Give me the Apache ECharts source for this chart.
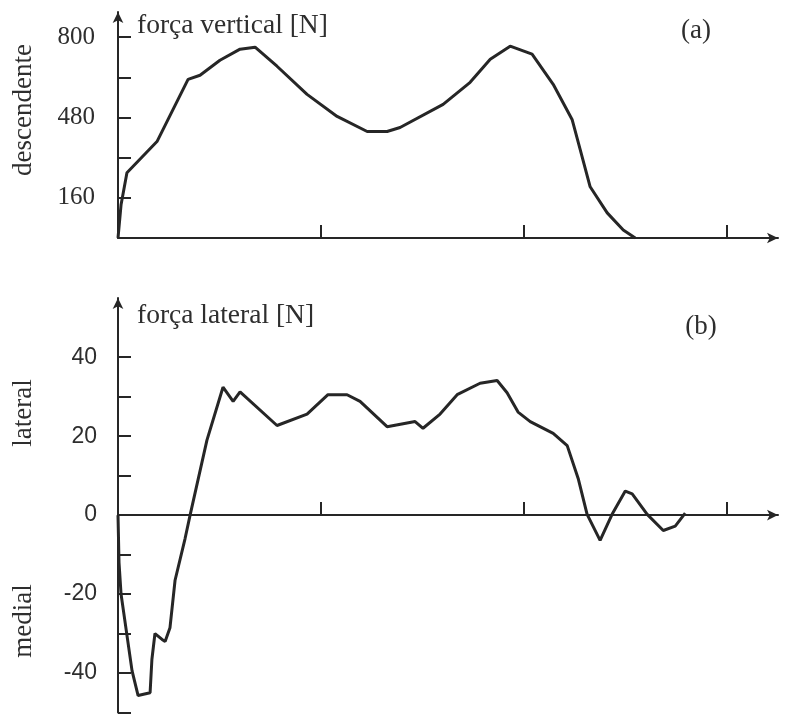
<!DOCTYPE html>
<html>
<head>
<meta charset="utf-8">
<script src="https://cdn.jsdelivr.net/npm/echarts@6/dist/echarts.min.js"></script>
<style>
html,body{margin:0;padding:0;background:#fff;}
#chart{width:791px;height:714px;}
</style>
</head>
<body>
<div id="chart"></div>
<script>
// (a) vertical force: time position (x-axis units, ticks at 1,2,3) and force [N]
const vertX = [0, 0.015, 0.044, 0.192, 0.345, 0.404, 0.502, 0.601, 0.675, 0.783, 0.931, 1.079, 1.227, 1.325, 1.389, 1.601, 1.734, 1.833, 1.931, 2.039, 2.143, 2.236, 2.276, 2.325, 2.409, 2.488, 2.547];
const vertForce = [0, 132, 260, 384, 632, 648, 708, 752, 760, 684, 572, 484, 424, 424, 440, 532, 620, 712, 764, 732, 612, 472, 352, 204, 100, 32, 0];

// (b) lateral force
const latX = [0, 0.005, 0.015, 0.069, 0.099, 0.158, 0.167, 0.182, 0.217, 0.232, 0.256, 0.281, 0.330, 0.355, 0.438, 0.517, 0.567, 0.601, 0.783, 0.931, 1.034, 1.128, 1.192, 1.325, 1.463, 1.502, 1.586, 1.670, 1.783, 1.867, 1.916, 1.970, 2.030, 2.143, 2.212, 2.266, 2.310, 2.374, 2.433, 2.498, 2.532, 2.606, 2.685, 2.744, 2.793];
const latForce = [0, -12, -20, -39.4, -45.7, -45, -36.5, -30, -31.5, -32, -28.5, -16.5, -6, 0, 19, 32.4, 28.8, 31.2, 22.7, 25.6, 30.5, 30.5, 28.8, 22.4, 23.7, 22, 25.6, 30.5, 33.4, 34.1, 31, 26.1, 23.7, 20.7, 17.6, 9.3, 0.2, -6.4, 0.2, 6.1, 5.4, 0.2, -3.9, -2.8, 0.5];

// ticks and labels
const xTicks = [1, 2, 3];
const vertTicks = [160, 320, 480, 640, 800];
const vertTickLabels = [160, 480, 800];
const latTicks = [-50, -40, -30, -20, -10, 10, 20, 30, 40];
const latTickLabels = [-40, -20, 0, 20, 40];

const titleA = 'força vertical [N]';
const titleB = 'força lateral [N]';
const panelA = '(a)';
const panelB = '(b)';
const yNameA = 'descendente';
const yNameB1 = 'lateral';
const yNameB2 = 'medial';

const ink = '#262626';
const textInk = '#2e2e2e';
const serif = '"Liberation Serif", "DejaVu Serif", serif';
const sans = '"Liberation Sans", Arial, sans-serif';

function pairs(xs, ys) { return xs.map((x, i) => [x, ys[i]]); }

function xAxisCfg(gi) {
  return {
    gridIndex: gi, type: 'value', min: 0, max: 3.25,
    axisLine: { show: true, onZero: true, symbol: ['none', 'arrow'], symbolSize: [8, 11], lineStyle: { color: ink, width: 2 } },
    axisTick: { show: true, inside: true, length: 13, customValues: xTicks, lineStyle: { color: ink, width: 2 } },
    axisLabel: { show: false },
    splitLine: { show: false }
  };
}

function txt(x, y, text, size, family, align, rot) {
  return {
    type: 'text', x: x, y: y, rotation: rot || 0,
    style: { text: text, font: size + 'px ' + family, fill: textInk, align: align, verticalAlign: 'middle', textAlign: align, textVerticalAlign: 'middle' }
  };
}

const option = {
  animation: false,
  backgroundColor: '#ffffff',
  grid: [
    { left: 118, top: 12, width: 660, height: 226, outerBoundsMode: 'none' },
    { left: 118, top: 298, width: 660, height: 414.5, outerBoundsMode: 'none' }
  ],
  xAxis: [xAxisCfg(0), xAxisCfg(1)],
  yAxis: [
    {
      gridIndex: 0, type: 'value', min: 0, max: 900,
      axisLine: { show: true, symbol: ['none', 'arrow'], symbolSize: [8, 11], lineStyle: { color: ink, width: 2 } },
      axisTick: { show: true, inside: true, length: 13, customValues: vertTicks, lineStyle: { color: ink, width: 2 } },
      axisLabel: { show: true, customValues: vertTickLabels, margin: 23, color: textInk, fontFamily: serif, fontSize: 25 },
      splitLine: { show: false }
    },
    {
      gridIndex: 1, type: 'value', min: -50, max: 55,
      axisLine: { show: true, onZero: false, symbol: ['none', 'arrow'], symbolSize: [8, 11], lineStyle: { color: ink, width: 2 } },
      axisTick: { show: true, inside: true, length: 13, customValues: latTicks, lineStyle: { color: ink, width: 2 } },
      axisLabel: { show: true, customValues: latTickLabels, margin: 21, color: textInk, fontFamily: sans, fontSize: 23 },
      splitLine: { show: false }
    }
  ],
  series: [
    {
      type: 'line', xAxisIndex: 0, yAxisIndex: 0, data: pairs(vertX, vertForce),
      showSymbol: false, smooth: false, lineStyle: { color: ink, width: 3 }
    },
    {
      type: 'line', xAxisIndex: 1, yAxisIndex: 1, data: pairs(latX, latForce),
      showSymbol: false, smooth: false, lineStyle: { color: ink, width: 3 }
    }
  ],
  graphic: [
    txt(137, 26, titleA, 27.5, serif, 'left'),
    txt(137, 316, titleB, 27.5, serif, 'left'),
    txt(696, 31, panelA, 27, serif, 'center'),
    txt(701, 327, panelB, 27, serif, 'center'),
    txt(24, 110, yNameA, 27, serif, 'center', Math.PI / 2),
    txt(24, 413, yNameB1, 27, serif, 'center', Math.PI / 2),
    txt(24, 621, yNameB2, 27, serif, 'center', Math.PI / 2)
  ]
};

const chart = echarts.init(document.getElementById('chart'), null, { renderer: 'canvas' });
chart.setOption(option);
</script>
</body>
</html>
